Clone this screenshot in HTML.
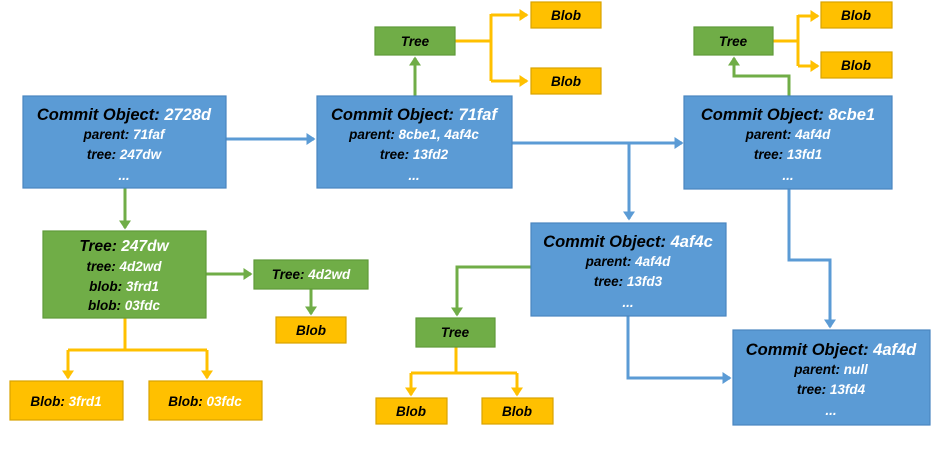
<!DOCTYPE html>
<html><head><meta charset="utf-8"><style>
html,body{margin:0;padding:0;background:#fff;}
svg{display:block;}
text{font-family:"Liberation Sans",sans-serif;font-weight:bold;font-style:italic;text-anchor:middle;fill:#000;}
.t{font-size:16.5px;}
.s{font-size:13.5px;}
.w{fill:#fff;}
</style></head><body>
<svg width="945" height="472" viewBox="0 0 945 472" xmlns="http://www.w3.org/2000/svg">
<defs>
<marker id="ab" markerWidth="4" markerHeight="4" refX="2.5" refY="2" orient="auto" markerUnits="strokeWidth"><path d="M0,0 L3,2 L0,4z" fill="#5b9bd5"/></marker>
<marker id="ag" markerWidth="4" markerHeight="4" refX="2.5" refY="2" orient="auto" markerUnits="strokeWidth"><path d="M0,0 L3,2 L0,4z" fill="#70ad47"/></marker>
<marker id="ay" markerWidth="4" markerHeight="4" refX="2.5" refY="2" orient="auto" markerUnits="strokeWidth"><path d="M0,0 L3,2 L0,4z" fill="#ffc000"/></marker>
</defs>
<g fill="none" stroke-width="3">
<!-- blue -->
<path d="M226 139 H314" stroke="#5b9bd5" marker-end="url(#ab)"/>
<path d="M512 143 H682" stroke="#5b9bd5" marker-end="url(#ab)"/>
<path d="M629 143 V219" stroke="#5b9bd5" marker-end="url(#ab)"/>
<path d="M628 316 V378 H730" stroke="#5b9bd5" marker-end="url(#ab)"/>
<path d="M789 189 V260 H830 V327" stroke="#5b9bd5" marker-end="url(#ab)"/>
<!-- green -->
<path d="M125 188 V228" stroke="#70ad47" marker-end="url(#ag)"/>
<path d="M206 274 H251" stroke="#70ad47" marker-end="url(#ag)"/>
<path d="M311 289 V314" stroke="#70ad47" marker-end="url(#ag)"/>
<path d="M415 96 V58" stroke="#70ad47" marker-end="url(#ag)"/>
<path d="M789 96 V76 H734 V58" stroke="#70ad47" marker-end="url(#ag)"/>
<path d="M531 267 H457 V315" stroke="#70ad47" marker-end="url(#ag)"/>
<!-- yellow -->
<path d="M125 318 V350" stroke="#ffc000"/>
<path d="M68 350 H207" stroke="#ffc000"/>
<path d="M68 350 V378" stroke="#ffc000" marker-end="url(#ay)"/>
<path d="M207 350 V378" stroke="#ffc000" marker-end="url(#ay)"/>
<path d="M456 347 V373" stroke="#ffc000"/>
<path d="M411 373 H517" stroke="#ffc000"/>
<path d="M411 373 V395" stroke="#ffc000" marker-end="url(#ay)"/>
<path d="M517 373 V395" stroke="#ffc000" marker-end="url(#ay)"/>
<path d="M455 41 H491" stroke="#ffc000"/>
<path d="M491 14 V81" stroke="#ffc000"/>
<path d="M491 15 H527" stroke="#ffc000" marker-end="url(#ay)"/>
<path d="M491 81 H527" stroke="#ffc000" marker-end="url(#ay)"/>
<path d="M773 41 H798" stroke="#ffc000"/>
<path d="M798 15 V66" stroke="#ffc000"/>
<path d="M798 16 H818" stroke="#ffc000" marker-end="url(#ay)"/>
<path d="M798 66 H818" stroke="#ffc000" marker-end="url(#ay)"/>
</g>
<!-- boxes -->
<g stroke-width="1.2">
<rect x="23" y="96" width="203" height="92" fill="#5b9bd5" stroke="#4a86c0"/>
<rect x="317" y="96" width="195" height="92" fill="#5b9bd5" stroke="#4a86c0"/>
<rect x="684" y="96" width="208" height="93" fill="#5b9bd5" stroke="#4a86c0"/>
<rect x="531" y="223" width="195" height="93" fill="#5b9bd5" stroke="#4a86c0"/>
<rect x="733" y="330" width="197" height="95" fill="#5b9bd5" stroke="#4a86c0"/>
<rect x="43" y="231" width="163" height="87" fill="#70ad47" stroke="#5f9a3a"/>
<rect x="254" y="260" width="114" height="29" fill="#70ad47" stroke="#5f9a3a"/>
<rect x="375" y="27" width="80" height="28" fill="#70ad47" stroke="#5f9a3a"/>
<rect x="694" y="27" width="79" height="28" fill="#70ad47" stroke="#5f9a3a"/>
<rect x="416" y="318" width="79" height="29" fill="#70ad47" stroke="#5f9a3a"/>
<rect x="10" y="381" width="113" height="39" fill="#ffc000" stroke="#d9a300"/>
<rect x="149" y="381" width="113" height="39" fill="#ffc000" stroke="#d9a300"/>
<rect x="276" y="317" width="70" height="26" fill="#ffc000" stroke="#d9a300"/>
<rect x="376" y="398" width="71" height="26" fill="#ffc000" stroke="#d9a300"/>
<rect x="482" y="398" width="71" height="26" fill="#ffc000" stroke="#d9a300"/>
<rect x="531" y="2" width="70" height="26" fill="#ffc000" stroke="#d9a300"/>
<rect x="531" y="68" width="70" height="26" fill="#ffc000" stroke="#d9a300"/>
<rect x="821" y="2" width="71" height="26" fill="#ffc000" stroke="#d9a300"/>
<rect x="821" y="52" width="71" height="26" fill="#ffc000" stroke="#d9a300"/>
</g>
<!-- text -->
<text class="t" x="124" y="120">Commit Object: <tspan class="w">2728d</tspan></text>
<text class="s" x="124" y="139">parent: <tspan class="w">71faf</tspan></text>
<text class="s" x="124" y="159">tree: <tspan class="w">247dw</tspan></text>
<text class="s w" x="124" y="180">...</text>

<text class="t" x="414" y="120">Commit Object: <tspan class="w">71faf</tspan></text>
<text class="s" x="414" y="139">parent: <tspan class="w">8cbe1, 4af4c</tspan></text>
<text class="s" x="414" y="159">tree: <tspan class="w">13fd2</tspan></text>
<text class="s w" x="414" y="180">...</text>

<text class="t" x="788" y="120">Commit Object: <tspan class="w">8cbe1</tspan></text>
<text class="s" x="788" y="139">parent: <tspan class="w">4af4d</tspan></text>
<text class="s" x="788" y="159">tree: <tspan class="w">13fd1</tspan></text>
<text class="s w" x="788" y="180">...</text>

<text class="t" x="628" y="247">Commit Object: <tspan class="w">4af4c</tspan></text>
<text class="s" x="628" y="266">parent: <tspan class="w">4af4d</tspan></text>
<text class="s" x="628" y="286">tree: <tspan class="w">13fd3</tspan></text>
<text class="s w" x="628" y="307">...</text>

<text class="t" x="831" y="355">Commit Object: <tspan class="w">4af4d</tspan></text>
<text class="s" x="831" y="374">parent: <tspan class="w">null</tspan></text>
<text class="s" x="831" y="394">tree: <tspan class="w">13fd4</tspan></text>
<text class="s w" x="831" y="415">...</text>

<text class="t" x="124" y="251" style="font-size:15.5px">Tree: <tspan class="w">247dw</tspan></text>
<text class="s" x="124" y="271">tree: <tspan class="w">4d2wd</tspan></text>
<text class="s" x="124" y="291">blob: <tspan class="w">3frd1</tspan></text>
<text class="s" x="124" y="310">blob: <tspan class="w">03fdc</tspan></text>

<text class="s" x="311" y="279">Tree: <tspan class="w">4d2wd</tspan></text>
<text class="s" x="311" y="335">Blob</text>
<text class="s" x="415" y="46">Tree</text>
<text class="s" x="733" y="46">Tree</text>
<text class="s" x="455" y="337">Tree</text>
<text class="s" x="66" y="406">Blob: <tspan class="w">3frd1</tspan></text>
<text class="s" x="205" y="406">Blob: <tspan class="w">03fdc</tspan></text>
<text class="s" x="411" y="416">Blob</text>
<text class="s" x="517" y="416">Blob</text>
<text class="s" x="566" y="20">Blob</text>
<text class="s" x="566" y="86">Blob</text>
<text class="s" x="856" y="20">Blob</text>
<text class="s" x="856" y="70">Blob</text>
</svg>
</body></html>
